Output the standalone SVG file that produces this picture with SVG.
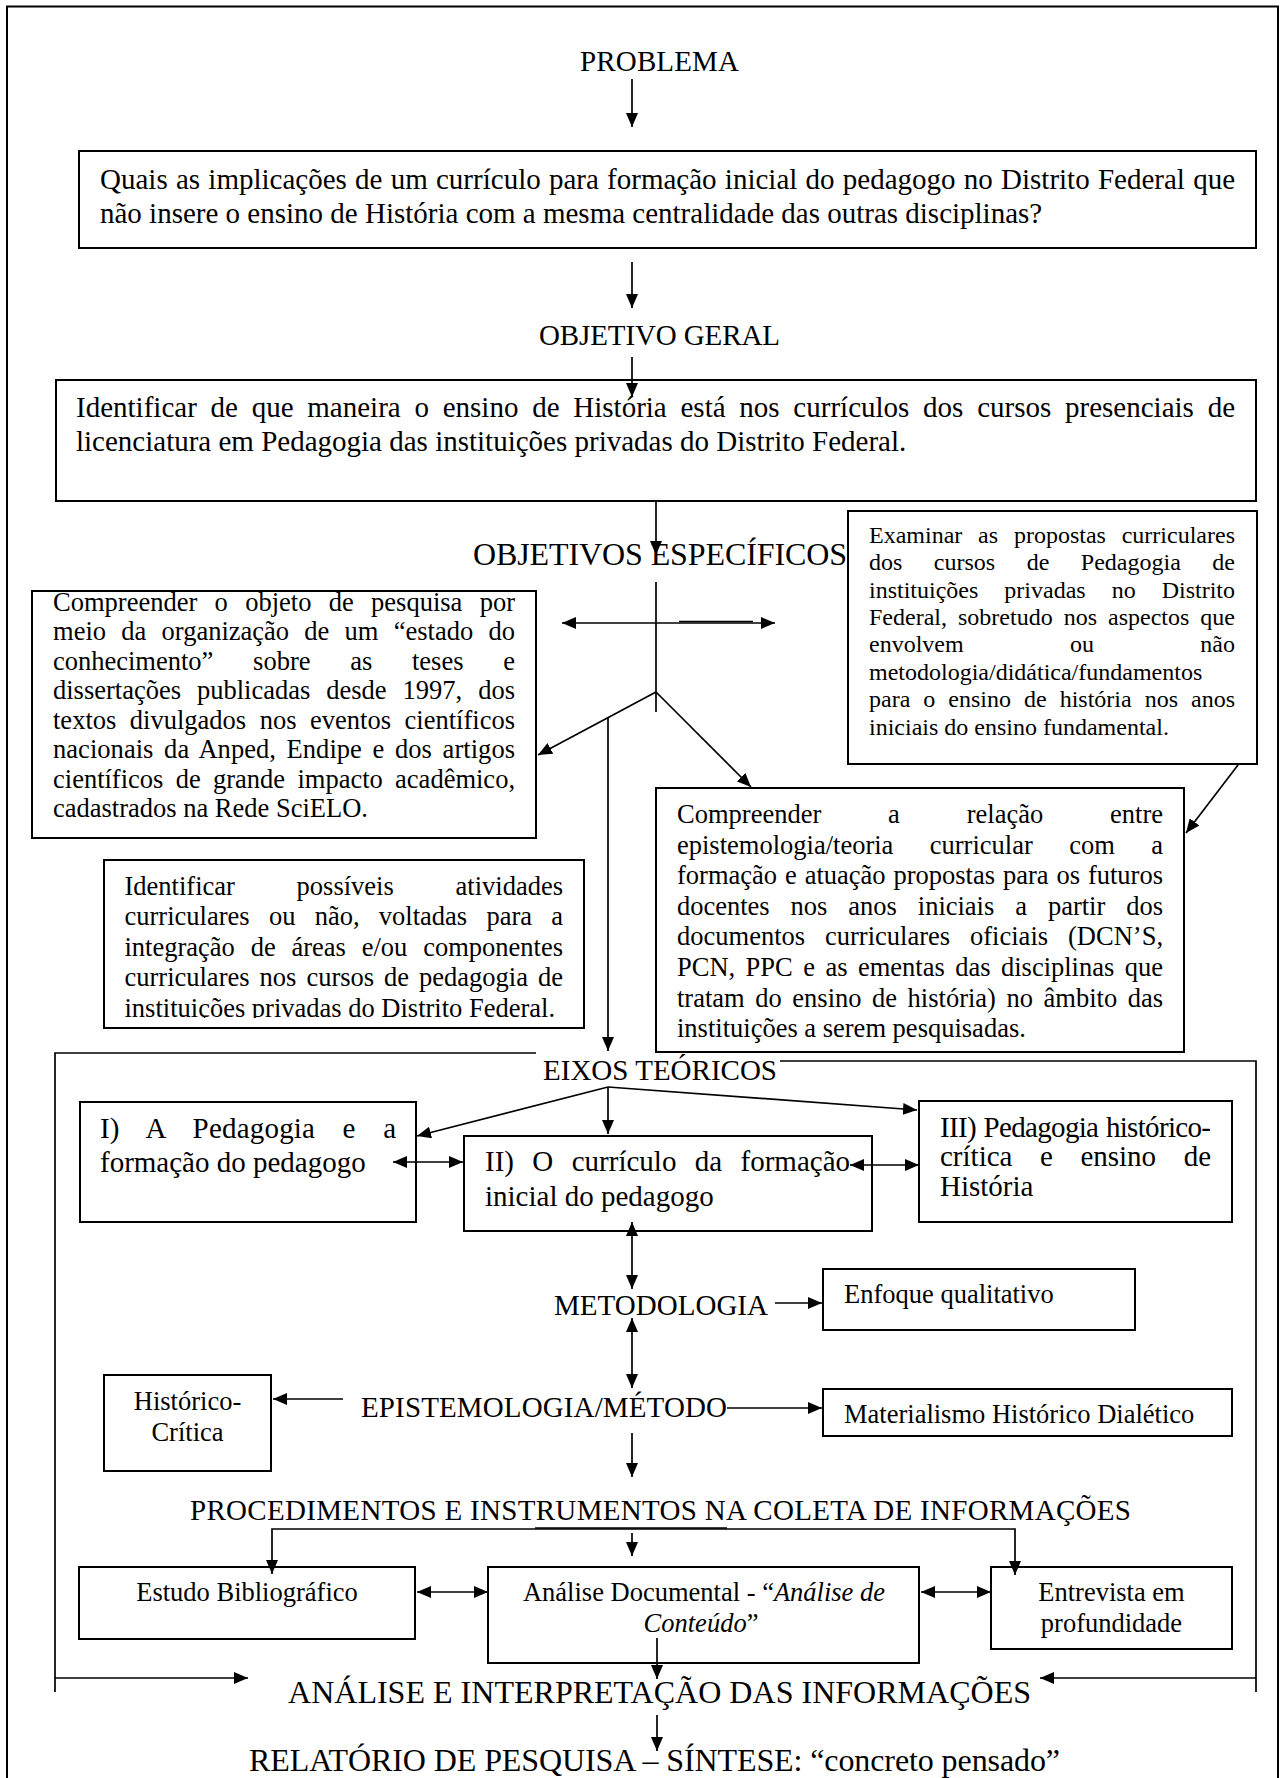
<svg xmlns="http://www.w3.org/2000/svg" width="1281" height="1778" viewBox="0 0 1281 1778">
<defs>
<style>
text{font-family:"Liberation Serif","Times New Roman",serif;fill:#000}
.h29{font-size:29px}
.h32{font-size:32px}
.b26{font-size:26.5px}
.b24{font-size:24px}
.box{fill:#fff;stroke:#000;stroke-width:2}
.c{fill:none;stroke:#000;stroke-width:1.7}
.mid{text-anchor:middle}
</style>
<marker id="ah" viewBox="0 0 14 12" refX="14" refY="6" markerWidth="14" markerHeight="12" markerUnits="userSpaceOnUse" orient="auto-start-reverse">
<path d="M0,0 L14,6 L0,12 z" fill="#000"/>
</marker>
<clipPath id="clipD"><rect x="104" y="860" width="480" height="158"/></clipPath>
</defs>
<rect width="1281" height="1778" fill="#fff"/>
<rect x="7" y="6.5" width="1271" height="1800" fill="none" stroke="#000" stroke-width="2"/>

<g id="frame-eixos">
<path class="c" d="M55,1692 V1053 H536" stroke-width="2"/>
<path class="c" d="M780,1061 H1256 V1692" stroke-width="2"/>
</g>

<g id="problema"><text class="h29" x="580" y="71" textLength="159">PROBLEMA</text></g>

<g id="box-problema">
<rect class="box" x="79" y="151" width="1177" height="97"/>
<text class="h29" x="100" y="189" textLength="1135" style="word-spacing:1px">Quais as implicações de um currículo para formação inicial do pedagogo no Distrito Federal que</text>
<text class="h29" x="100" y="223">não insere o ensino de História com a mesma centralidade das outras disciplinas?</text>
</g>

<g id="objetivo-geral"><text class="h29" x="539" y="345" textLength="241">OBJETIVO GERAL</text></g>

<g id="box-objetivo-geral">
<rect class="box" x="56" y="380" width="1200" height="121"/>
<text class="h29" x="76" y="417" textLength="1159" style="word-spacing:6.5px">Identificar de que maneira o ensino de História está nos currículos dos cursos presenciais de</text>
<text class="h29" x="76" y="451">licenciatura em Pedagogia das instituições privadas do Distrito Federal.</text>
</g>

<g id="objetivos-especificos"><text class="h32" x="473" y="565" textLength="374">OBJETIVOS ESPECÍFICOS</text></g>

<g id="box-a">
<rect class="box" x="32" y="591" width="504" height="247"/>
<text class="b26" x="53" y="610.5" textLength="462" style="word-spacing:10.7px">Compreender o objeto de pesquisa por</text>
<text class="b26" x="53" y="640" textLength="462" style="word-spacing:8.6px">meio da organização de um “estado do</text>
<text class="b26" x="53" y="669.5" textLength="462" style="word-spacing:33.1px">conhecimento” sobre as teses e</text>
<text class="b26" x="53" y="699" textLength="462" style="word-spacing:9.4px">dissertações publicadas desde 1997, dos</text>
<text class="b26" x="53" y="728.5" textLength="462" style="word-spacing:6.9px">textos divulgados nos eventos científicos</text>
<text class="b26" x="53" y="758" textLength="462" style="word-spacing:4px">nacionais da Anped, Endipe e dos artigos</text>
<text class="b26" x="53" y="787.5" textLength="462" style="word-spacing:5.7px">científicos de grande impacto acadêmico,</text>
<text class="b26" x="53" y="817">cadastrados na Rede SciELO.</text>
</g>

<g id="box-b">
<rect class="box" x="848" y="511" width="409" height="253"/>
<text class="b24" x="869" y="543" textLength="366" style="word-spacing:9.8px">Examinar as propostas curriculares</text>
<text class="b24" x="869" y="570.4" textLength="366" style="word-spacing:25.5px">dos cursos de Pedagogia de</text>
<text class="b24" x="869" y="597.7" textLength="366" style="word-spacing:20px">instituições privadas no Distrito</text>
<text class="b24" x="869" y="625.1" textLength="366" style="word-spacing:5px">Federal, sobretudo nos aspectos que</text>
<text class="b24" x="869" y="652.4" textLength="366" style="word-spacing:100.3px">envolvem ou não</text>
<text class="b24" x="869" y="679.8">metodologia/didática/fundamentos</text>
<text class="b24" x="869" y="707.1" textLength="366" style="word-spacing:7px">para o ensino de história nos anos</text>
<text class="b24" x="869" y="734.5">iniciais do ensino fundamental.</text>
</g>

<g id="box-c">
<rect class="box" x="656" y="788" width="528" height="264"/>
<text class="b26" x="677" y="823" textLength="486" style="word-spacing:60.2px">Compreender a relação entre</text>
<text class="b26" x="677" y="853.6" textLength="486" style="word-spacing:29.8px">epistemologia/teoria curricular com a</text>
<text class="b26" x="677" y="884.2" textLength="486" style="word-spacing:1.3px">formação e atuação propostas para os futuros</text>
<text class="b26" x="677" y="914.8" textLength="486" style="word-spacing:14.3px">docentes nos anos iniciais a partir dos</text>
<text class="b26" x="677" y="945.4" textLength="486" style="word-spacing:13.3px">documentos curriculares oficiais (DCN’S,</text>
<text class="b26" x="677" y="976" textLength="486" style="word-spacing:3.8px">PCN, PPC e as ementas das disciplinas que</text>
<text class="b26" x="677" y="1006.6" textLength="486" style="word-spacing:3.9px">tratam do ensino de história) no âmbito das</text>
<text class="b26" x="677" y="1037.2">instituições a serem pesquisadas.</text>
</g>

<g id="box-d">
<rect class="box" x="104" y="860" width="480" height="168"/>
<g clip-path="url(#clipD)">
<text class="b26" x="124.5" y="895" textLength="438.5" style="word-spacing:55.1px">Identificar possíveis atividades</text>
<text class="b26" x="124.5" y="925.3" textLength="438.5" style="word-spacing:12.6px">curriculares ou não, voltadas para a</text>
<text class="b26" x="124.5" y="955.6" textLength="438.5" style="word-spacing:9.2px">integração de áreas e/ou componentes</text>
<text class="b26" x="124.5" y="985.9" textLength="438.5" style="word-spacing:3.4px">curriculares nos cursos de pedagogia de</text>
<text class="b26" x="124.5" y="1016.5">instituições privadas do Distrito Federal.</text>
</g>
</g>

<g id="eixos-teoricos"><text class="h29" x="543" y="1080" textLength="234">EIXOS TEÓRICOS</text></g>

<g id="box-i">
<rect class="box" x="80" y="1102" width="336" height="120"/>
<text class="h29" x="100" y="1138" textLength="296" style="word-spacing:20px">I) A Pedagogia e a</text>
<text class="h29" x="100" y="1172">formação do pedagogo</text>
</g>

<g id="box-ii">
<rect class="box" x="464" y="1136" width="408" height="95"/>
<text class="h29" x="485" y="1171" textLength="365" style="word-spacing:11.1px">II) O currículo da formação</text>
<text class="h29" x="485" y="1206">inicial do pedagogo</text>
</g>

<g id="box-iii">
<rect class="box" x="919" y="1101" width="313" height="121"/>
<text class="h29" x="940" y="1137" textLength="271" style="word-spacing:1px">III) Pedagogia histórico-</text>
<text class="h29" x="940" y="1166" textLength="271" style="word-spacing:20.3px">crítica e ensino de</text>
<text class="h29" x="940" y="1196">História</text>
</g>

<g id="metodologia"><text class="h29" x="554" y="1315" textLength="214">METODOLOGIA</text></g>

<g id="box-enfoque">
<rect class="box" x="823" y="1269" width="312" height="61"/>
<text class="b26" x="844" y="1303">Enfoque qualitativo</text>
</g>

<g id="epistemologia"><text class="h29" x="361" y="1417" textLength="366">EPISTEMOLOGIA/MÉTODO</text></g>

<g id="box-historico-critica">
<rect class="box" x="104" y="1375" width="167" height="96"/>
<text class="b26 mid" x="187.5" y="1410">Histórico-</text>
<text class="b26 mid" x="187.5" y="1441">Crítica</text>
</g>

<g id="box-materialismo">
<rect class="box" x="823" y="1389" width="409" height="47"/>
<text class="b26" x="844" y="1423">Materialismo Histórico Dialético</text>
</g>

<g id="procedimentos"><text class="h29" x="190" y="1520" textLength="941">PROCEDIMENTOS E INSTRUMENTOS NA COLETA DE INFORMAÇÕES</text></g>

<g id="box-estudo">
<rect class="box" x="79" y="1567" width="336" height="72"/>
<text class="b26 mid" x="247" y="1601">Estudo Bibliográfico</text>
</g>

<g id="box-analise-documental">
<rect class="box" x="488" y="1567" width="431" height="96"/>
<text class="b26 mid" x="704" y="1601">Análise Documental - “<tspan font-style="italic">Análise de</tspan></text>
<text class="b26 mid" x="701" y="1632"><tspan font-style="italic">Conteúdo</tspan>”</text>
</g>

<g id="box-entrevista">
<rect class="box" x="991" y="1567" width="241" height="82"/>
<text class="b26 mid" x="1111.5" y="1601">Entrevista em</text>
<text class="b26 mid" x="1111.5" y="1632">profundidade</text>
</g>

<g id="analise-interpretacao"><text class="h32" x="288" y="1703" textLength="743">ANÁLISE E INTERPRETAÇÃO DAS INFORMAÇÕES</text></g>

<g id="relatorio"><text class="h32" x="249" y="1771" textLength="811">RELATÓRIO DE PESQUISA – SÍNTESE: “concreto pensado”</text></g>

<g id="connectors">
<line class="c" x1="632" y1="79" x2="632" y2="127" marker-end="url(#ah)"/>
<line class="c" x1="632" y1="262" x2="632" y2="308" marker-end="url(#ah)"/>
<line class="c" x1="632" y1="357" x2="632" y2="397" marker-end="url(#ah)"/>
<line class="c" x1="656" y1="501" x2="656" y2="555" marker-end="url(#ah)"/>
<line class="c" x1="656" y1="582" x2="656" y2="712"/>
<line class="c" x1="562" y1="623" x2="775" y2="623" marker-start="url(#ah)" marker-end="url(#ah)"/>
<line class="c" x1="679" y1="621.5" x2="753" y2="621.5" stroke-width="2.5"/>
<line class="c" x1="656" y1="692" x2="538" y2="755" marker-end="url(#ah)"/>
<line class="c" x1="656" y1="692" x2="751" y2="787" marker-end="url(#ah)"/>
<line class="c" x1="608" y1="717" x2="608" y2="1051" marker-end="url(#ah)"/>
<line class="c" x1="1238" y1="765" x2="1186" y2="833" marker-end="url(#ah)"/>
<line class="c" x1="608" y1="1087" x2="417" y2="1136" marker-end="url(#ah)"/>
<line class="c" x1="608" y1="1087" x2="608" y2="1134" marker-end="url(#ah)"/>
<line class="c" x1="608" y1="1087" x2="917" y2="1110" marker-end="url(#ah)"/>
<line class="c" x1="393" y1="1162" x2="463" y2="1162" marker-start="url(#ah)" marker-end="url(#ah)"/>
<line class="c" x1="850" y1="1165" x2="919" y2="1165" marker-start="url(#ah)" marker-end="url(#ah)"/>
<line class="c" x1="632" y1="1222" x2="632" y2="1289" marker-start="url(#ah)" marker-end="url(#ah)"/>
<line class="c" x1="775" y1="1303" x2="822" y2="1303" marker-end="url(#ah)"/>
<line class="c" x1="632" y1="1318" x2="632" y2="1388" marker-start="url(#ah)" marker-end="url(#ah)"/>
<line class="c" x1="343" y1="1399" x2="273" y2="1399" marker-end="url(#ah)"/>
<line class="c" x1="727" y1="1408" x2="822" y2="1408" marker-end="url(#ah)"/>
<line class="c" x1="632" y1="1433" x2="632" y2="1477" marker-end="url(#ah)"/>
<path class="c" d="M272,1574 V1529 H1015 V1575" marker-start="url(#ah)" marker-end="url(#ah)"/>
<line class="c" x1="535" y1="1528" x2="727" y2="1528" stroke-width="2.5"/>
<line class="c" x1="632" y1="1533" x2="632" y2="1556" marker-end="url(#ah)"/>
<line class="c" x1="417" y1="1592" x2="488" y2="1592" marker-start="url(#ah)" marker-end="url(#ah)"/>
<line class="c" x1="921" y1="1592" x2="991" y2="1592" marker-start="url(#ah)" marker-end="url(#ah)"/>
<line class="c" x1="657" y1="1638" x2="657" y2="1679" marker-end="url(#ah)"/>
<line class="c" x1="55" y1="1678" x2="248" y2="1678" marker-end="url(#ah)"/>
<line class="c" x1="1256" y1="1678" x2="1040" y2="1678" marker-end="url(#ah)"/>
<line class="c" x1="657" y1="1715" x2="657" y2="1751" marker-end="url(#ah)"/>
</g>
</svg>
